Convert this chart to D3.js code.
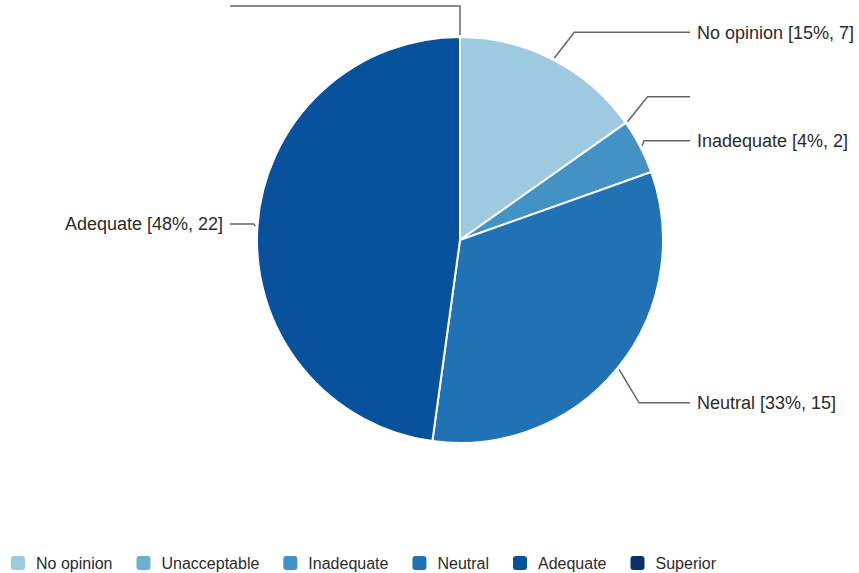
<!DOCTYPE html>
<html>
<head>
<meta charset="utf-8">
<script src="https://cdn.jsdelivr.net/npm/d3@7"></script>
<style>
  body { margin: 0; background: #fff; }
  text { font-family: "Liberation Sans", Arial, sans-serif; fill: #2b2b2b; }
</style>
</head>
<body>
<div id="chart"></div>
<script>
// chart data
const categories = ["No opinion", "Unacceptable", "Inadequate", "Neutral", "Adequate", "Superior"];
const counts = [7, 0, 2, 15, 22, 0];
const colors = ["#9ecae1", "#6baed6", "#4292c6", "#2171b5", "#08519c", "#08306b"];

const width = 859;
const height = 573;
const cx = 460, cy = 240, radius = 203;

const svg = d3.select('#chart').append('svg')
    .attr('width', width)
    .attr('height', height);

const total = d3.sum(counts);
const data = categories.map((c, i) => ({ name: c, value: counts[i], color: colors[i] }));

const pie = d3.pie().sort(null).value(d => d.value);
const arcs = pie(data);
const arc = d3.arc().innerRadius(0).outerRadius(radius);

const g = svg.append('g').attr('transform', `translate(${cx},${cy})`);

g.selectAll('path')
    .data(arcs.filter(d => d.value > 0))
    .join('path')
    .attr('d', arc)
    .attr('fill', d => d.data.color)
    .attr('stroke', '#fff')
    .attr('stroke-width', 2);

// label layout: anchor on rim, label row from a slightly larger radius, then spread apart
const labels = arcs.map(d => {
    const a = (d.startAngle + d.endAngle) / 2;
    const side = Math.sin(a) > 1e-9 ? 1 : -1;
    const c = Math.cos(a);
    return {
        d: d, a: a, side: side,
        ax: (radius + 2) * Math.sin(a),
        ay: -(radius + 2) * c,
        // lower labels sit a bit further out
        y: -(radius + 31) * c + 24 * Math.max(0, -c)
    };
});

[1, -1].forEach(side => {
    const group = labels.filter(l => l.side === side).sort((p, q) => p.y - q.y);
    const gap = 44;
    for (let iter = 0; iter < 20; iter++) {
        for (let i = 1; i < group.length; i++) {
            const over = gap - (group[i].y - group[i - 1].y);
            if (over > 0) {
                group[i - 1].y -= over / 2;
                group[i].y += over / 2;
            }
        }
    }
});

const lineEnd = 230;
labels.forEach(l => {
    let ex = l.ax + l.side * 20;
    if (Math.abs(l.ax) < 1) ex = l.ax;
    if (Math.abs(l.y - l.ay) < 8) ex = l.ax + l.side * 2;
    g.append('polyline')
        .attr('points', [[l.ax, l.ay], [ex, l.y], [l.side * lineEnd, l.y]].map(p => p.join(',')).join(' '))
        .attr('fill', 'none')
        .attr('stroke', '#666')
        .attr('stroke-width', 1.5);
    if (l.d.value > 0) {
        const pct = Math.round(l.d.value / total * 100);
        g.append('text')
            .attr('x', l.side * (lineEnd + 7))
            .attr('y', l.y)
            .attr('dy', '0.35em')
            .attr('text-anchor', l.side > 0 ? 'start' : 'end')
            .style('font-size', '18px')
            .text(`${l.d.data.name} [${pct}%, ${l.d.value}]`);
    }
});

// legend
const legend = svg.append('g').attr('transform', 'translate(11,563)');
let lx = 0;
data.forEach(d => {
    const item = legend.append('g').attr('transform', `translate(${lx},0)`);
    item.append('rect')
        .attr('x', 0).attr('y', -7)
        .attr('width', 14).attr('height', 14)
        .attr('rx', 3)
        .attr('fill', d.color);
    const t = item.append('text')
        .attr('x', 25).attr('y', 0)
        .attr('dy', '0.35em')
        .style('font-size', '16px')
        .text(d.name);
    lx += 25 + t.node().getComputedTextLength() + 24;
});
</script>
</body>
</html>
